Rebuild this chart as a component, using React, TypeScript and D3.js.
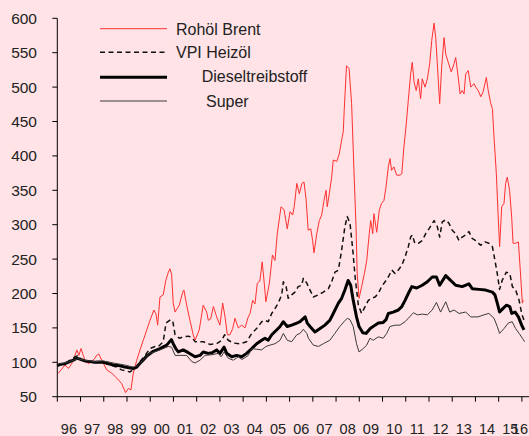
import React from "react";
import * as d3 from "d3";

// ---- data (index 1996 = 100), [decimal year, value] ----
const seriesNames = ["Rohöl Brent", "VPI Heizöl", "Dieseltreibstoff", "Super"];

const brent: [number, number][] = [
  [1996.04, 84], [1996.19, 90], [1996.33, 96], [1996.48, 91], [1996.62, 98], [1996.76, 110], [1996.84, 118], [1996.93, 110],
  [1997.02, 120], [1997.12, 110], [1997.19, 103], [1997.33, 98], [1997.48, 101], [1997.62, 106], [1997.69, 110], [1997.79, 112],
  [1997.91, 103], [1998.02, 96], [1998.13, 89], [1998.35, 84], [1998.56, 77], [1998.77, 69], [1998.94, 56], [1999.06, 62],
  [1999.17, 60], [1999.27, 84], [1999.42, 103], [1999.56, 118], [1999.7, 132], [1999.85, 147], [1999.99, 161], [2000.16, 176],
  [2000.25, 170], [2000.32, 154], [2000.42, 195], [2000.56, 198], [2000.67, 219], [2000.78, 231], [2000.85, 236], [2000.92, 228],
  [2000.99, 186], [2001.07, 173], [2001.25, 183], [2001.4, 202], [2001.45, 205], [2001.57, 183], [2001.71, 161], [2001.85, 140],
  [2001.93, 132], [2002.11, 147], [2002.28, 183], [2002.43, 173], [2002.5, 161], [2002.6, 163], [2002.72, 181], [2002.86, 166],
  [2003.0, 154], [2003.12, 186], [2003.22, 166], [2003.32, 140], [2003.43, 140], [2003.55, 149], [2003.65, 164], [2003.79, 150],
  [2003.94, 154], [2004.08, 150], [2004.22, 166], [2004.3, 171], [2004.41, 190], [2004.51, 185], [2004.61, 215], [2004.72, 218],
  [2004.82, 246], [2004.9, 218], [2004.98, 188], [2005.13, 215], [2005.26, 256], [2005.37, 248], [2005.47, 287], [2005.63, 326],
  [2005.76, 322], [2005.9, 294], [2006.02, 319], [2006.13, 314], [2006.2, 326], [2006.31, 360], [2006.42, 345], [2006.53, 360],
  [2006.62, 362], [2006.71, 337], [2006.8, 292], [2006.91, 294], [2006.99, 277], [2007.05, 259], [2007.17, 287], [2007.28, 306],
  [2007.38, 314], [2007.48, 335], [2007.57, 350], [2007.62, 326], [2007.71, 345], [2007.81, 369], [2007.88, 394], [2008.03, 392],
  [2008.14, 403], [2008.24, 423], [2008.31, 435], [2008.35, 466], [2008.45, 531], [2008.56, 527], [2008.67, 476], [2008.77, 379],
  [2008.86, 297], [2008.91, 229], [2008.99, 193], [2009.1, 210], [2009.22, 229], [2009.32, 248], [2009.43, 287], [2009.49, 306],
  [2009.58, 287], [2009.63, 316], [2009.75, 289], [2009.86, 321], [2009.96, 331], [2010.06, 335], [2010.15, 355], [2010.25, 384],
  [2010.32, 396], [2010.39, 379], [2010.49, 384], [2010.61, 372], [2010.75, 372], [2010.83, 374], [2010.92, 413], [2011.01, 442],
  [2011.11, 481], [2011.21, 519], [2011.28, 536], [2011.36, 507], [2011.45, 495], [2011.54, 512], [2011.64, 483], [2011.71, 512],
  [2011.83, 500], [2011.93, 512], [2012.03, 534], [2012.12, 568], [2012.22, 593], [2012.29, 572], [2012.36, 534], [2012.46, 476],
  [2012.55, 531], [2012.65, 572], [2012.72, 548], [2012.83, 536], [2012.96, 522], [2013.08, 534], [2013.15, 543], [2013.26, 514],
  [2013.34, 490], [2013.43, 495], [2013.51, 490], [2013.58, 519], [2013.69, 524], [2013.8, 500], [2013.94, 505], [2014.01, 500],
  [2014.12, 495], [2014.23, 486], [2014.33, 493], [2014.47, 514], [2014.55, 495], [2014.66, 476], [2014.73, 469], [2014.8, 427],
  [2014.9, 374], [2014.98, 311], [2015.04, 268], [2015.13, 326], [2015.23, 331], [2015.3, 360], [2015.37, 369], [2015.47, 350],
  [2015.56, 311], [2015.62, 273], [2015.73, 273], [2015.85, 275], [2015.92, 239], [2016.02, 186], [2016.06, 190],
];

const heizoel: [number, number][] = [
  [1996.04, 96], [1996.33, 98], [1996.76, 108], [1996.9, 110], [1997.05, 103], [1997.48, 101], [1997.91, 101], [1998.48, 94],
  [1998.77, 89], [1999.13, 86], [1999.34, 91], [1999.56, 101], [1999.78, 110], [1999.99, 120], [2000.21, 123], [2000.35, 123],
  [2000.56, 130], [2000.68, 157], [2000.88, 162], [2000.97, 160], [2001.07, 140], [2001.25, 135], [2001.42, 137], [2001.64, 138],
  [2001.79, 136], [2001.93, 130], [2002.28, 130], [2002.57, 126], [2002.86, 127], [2003.08, 132], [2003.2, 140], [2003.36, 132],
  [2003.58, 128], [2003.86, 127], [2004.15, 130], [2004.37, 142], [2004.58, 149], [2004.8, 159], [2004.94, 161], [2005.08, 159],
  [2005.23, 171], [2005.37, 178], [2005.51, 186], [2005.66, 198], [2005.73, 217], [2005.85, 210], [2005.94, 193], [2006.09, 198],
  [2006.23, 202], [2006.37, 210], [2006.52, 212], [2006.59, 222], [2006.74, 215], [2006.88, 205], [2007.02, 195], [2007.24, 198],
  [2007.45, 202], [2007.67, 207], [2007.81, 217], [2007.95, 231], [2008.1, 234], [2008.24, 263], [2008.38, 297], [2008.48, 312],
  [2008.6, 302], [2008.72, 263], [2008.82, 224], [2008.96, 183], [2009.1, 171], [2009.25, 181], [2009.39, 190], [2009.53, 193],
  [2009.68, 195], [2009.82, 200], [2009.96, 210], [2010.11, 217], [2010.25, 224], [2010.4, 234], [2010.54, 229], [2010.68, 234],
  [2010.83, 241], [2010.97, 253], [2011.11, 268], [2011.21, 282], [2011.28, 285], [2011.39, 273], [2011.54, 273], [2011.71, 277],
  [2011.86, 287], [2012.0, 294], [2012.22, 306], [2012.36, 297], [2012.46, 282], [2012.57, 304], [2012.72, 307], [2012.86, 302],
  [2013.0, 292], [2013.15, 287], [2013.29, 277], [2013.43, 282], [2013.58, 285], [2013.72, 290], [2013.86, 280], [2014.01, 277],
  [2014.22, 270], [2014.41, 275], [2014.58, 273], [2014.73, 268], [2014.84, 248], [2014.94, 229], [2015.04, 206], [2015.15, 219],
  [2015.33, 231], [2015.48, 229], [2015.59, 210], [2015.73, 205], [2015.88, 190], [2015.99, 171], [2016.09, 161],
];

const diesel: [number, number][] = [
  [1996.0, 95], [1996.12, 97], [1996.33, 98], [1996.69, 103], [1996.84, 106], [1997.19, 102], [1997.41, 101], [1997.62, 100],
  [1997.98, 100], [1998.41, 96], [1998.7, 95], [1998.91, 93], [1999.27, 91], [1999.42, 93], [1999.63, 101], [1999.85, 109],
  [2000.13, 116], [2000.42, 120], [2000.71, 125], [2000.91, 133], [2000.99, 127], [2001.1, 120], [2001.21, 115], [2001.42, 118],
  [2001.64, 114], [2001.93, 108], [2002.14, 110], [2002.28, 115], [2002.5, 113], [2002.66, 114], [2002.86, 118], [2003.0, 113],
  [2003.18, 122], [2003.29, 113], [2003.51, 108], [2003.72, 110], [2003.94, 108], [2004.15, 113], [2004.37, 120], [2004.58, 127],
  [2004.8, 132], [2004.94, 135], [2005.08, 132], [2005.23, 140], [2005.44, 147], [2005.59, 152], [2005.73, 159], [2005.9, 152],
  [2006.09, 154], [2006.31, 157], [2006.45, 159], [2006.67, 166], [2006.76, 157], [2006.88, 152], [2007.09, 144], [2007.31, 149],
  [2007.52, 154], [2007.73, 161], [2007.88, 171], [2008.1, 186], [2008.24, 193], [2008.38, 205], [2008.52, 219], [2008.63, 212],
  [2008.74, 190], [2008.88, 166], [2008.99, 152], [2009.15, 143], [2009.29, 142], [2009.47, 149], [2009.68, 154], [2009.82, 157],
  [2010.03, 158], [2010.15, 162], [2010.25, 171], [2010.46, 173], [2010.68, 176], [2010.83, 181], [2010.97, 190], [2011.11, 200],
  [2011.26, 210], [2011.47, 208], [2011.71, 212], [2011.93, 217], [2012.14, 224], [2012.32, 224], [2012.46, 212], [2012.72, 226],
  [2012.93, 219], [2013.15, 212], [2013.43, 210], [2013.72, 214], [2013.86, 207], [2014.15, 206], [2014.44, 205], [2014.73, 202],
  [2014.84, 198], [2014.94, 186], [2015.04, 173], [2015.18, 178], [2015.33, 183], [2015.48, 181], [2015.56, 171], [2015.71, 173],
  [2015.85, 166], [2015.99, 154], [2016.09, 147],
];

const superBenzin: [number, number][] = [
  [1996.0, 97], [1996.33, 99], [1996.69, 103], [1996.89, 105], [1997.19, 103], [1997.62, 101], [1997.98, 102], [1998.41, 99],
  [1998.91, 96], [1999.27, 93], [1999.47, 95], [1999.69, 103], [1999.99, 113], [2000.42, 118], [2000.78, 123], [2000.92, 122],
  [2001.07, 110], [2001.29, 110], [2001.57, 110], [2001.79, 101], [2001.93, 99], [2002.14, 103], [2002.36, 110], [2002.66, 111],
  [2002.93, 113], [2003.05, 108], [2003.18, 115], [2003.36, 106], [2003.58, 103], [2003.79, 108], [2003.95, 104], [2004.22, 110],
  [2004.37, 120], [2004.58, 119], [2004.8, 118], [2004.98, 123], [2005.16, 125], [2005.37, 127], [2005.59, 132], [2005.73, 142],
  [2005.9, 132], [2006.09, 130], [2006.31, 140], [2006.45, 142], [2006.59, 148], [2006.74, 142], [2006.81, 135], [2007.02, 125],
  [2007.24, 123], [2007.45, 127], [2007.73, 132], [2007.95, 142], [2008.16, 152], [2008.34, 159], [2008.48, 164], [2008.6, 162],
  [2008.74, 152], [2008.88, 127], [2008.99, 115], [2009.17, 120], [2009.32, 125], [2009.46, 135], [2009.6, 132], [2009.82, 137],
  [2010.03, 135], [2010.18, 142], [2010.32, 152], [2010.54, 154], [2010.75, 154], [2010.97, 159], [2011.11, 164], [2011.33, 172],
  [2011.5, 169], [2011.71, 170], [2011.93, 169], [2012.14, 176], [2012.32, 187], [2012.5, 173], [2012.72, 188], [2012.89, 173],
  [2013.08, 176], [2013.29, 171], [2013.58, 173], [2013.8, 166], [2014.11, 166], [2014.37, 169], [2014.58, 171], [2014.8, 164],
  [2014.94, 152], [2015.04, 142], [2015.23, 149], [2015.41, 157], [2015.58, 159], [2015.73, 149], [2015.88, 142], [2016.02, 135],
  [2016.12, 130],
];

const yTicks = [50, 100, 150, 200, 250, 300, 350, 400, 450, 500, 550, 600];
const years = d3.range(1996, 2017);
const yearLabels = ["96", "97", "98", "99", "00", "01", "02", "03", "04", "05", "06", "07", "08", "09", "10", "11", "12", "13", "14", "15", "16"];

const W = 529;
const H = 436;
const FONT = "'Liberation Sans', Arial, sans-serif";

export default function App() {
  const x = d3.scaleLinear().domain([1996, 2016]).range([57.3, 521.9]);
  const y = d3.scaleLinear().domain([50, 600]).range([396.7, 18.3]);
  const line = d3
    .line<[number, number]>()
    .x((d) => x(d[0]))
    .y((d) => y(d[1]));

  const styles = [
    { stroke: "#FF3030", width: 1, dash: undefined as string | undefined },
    { stroke: "#111", width: 1.5, dash: "5,3.5" },
    { stroke: "#000", width: 3, dash: undefined },
    { stroke: "#3a3a3a", width: 1, dash: undefined },
  ];
  const allSeries = [brent, heizoel, diesel, superBenzin];

  const legend = [
    { lineY: 28.7, textX: 176, textY: 35 },
    { lineY: 52.3, textX: 176, textY: 58.3 },
    { lineY: 77.3, textX: 201.7, textY: 82.3 },
    { lineY: 101, textX: 206, textY: 106.7 },
  ];

  const axisY = y(50);
  const axisX = x(1996);

  return (
    <svg
      width={W}
      height={H}
      style={{ position: "absolute", left: 0, top: 0, display: "block" }}
      fontFamily={FONT}
    >
      <rect x={0} y={0} width={W} height={H} fill="#FFE3E6" />

      {/* series */}
      {allSeries.map((s, i) => (
        <path
          key={i}
          d={line(s) || ""}
          fill="none"
          stroke={styles[i].stroke}
          strokeWidth={styles[i].width}
          strokeDasharray={styles[i].dash}
          strokeLinejoin="round"
        />
      ))}

      {/* y axis */}
      <line x1={axisX} x2={axisX} y1={y(600)} y2={axisY} stroke="#000" strokeWidth={1} />
      {yTicks.map((t) => (
        <g key={t}>
          <line x1={axisX - 5} x2={axisX} y1={y(t)} y2={y(t)} stroke="#000" strokeWidth={1} />
          <text x={37} y={y(t)} dy="0.36em" textAnchor="end" fontSize={15.5} fill="#222">
            {t}
          </text>
        </g>
      ))}

      {/* x axis */}
      <line x1={axisX} x2={W} y1={axisY} y2={axisY} stroke="#000" strokeWidth={1} />
      {years.map((yr) => (
        <line key={yr} x1={x(yr)} x2={x(yr)} y1={axisY} y2={axisY + 5} stroke="#000" strokeWidth={1} />
      ))}
      {yearLabels.map((lab, i) => {
        const cx = x(1996 + i + 0.5);
        const last = cx + 8 > W;
        return (
          <text
            key={lab}
            x={last ? W - 1 : cx}
            y={433.5}
            textAnchor={last ? "end" : "middle"}
            fontSize={14.5}
            fill="#222"
          >
            {lab}
          </text>
        );
      })}

      {/* legend */}
      {seriesNames.map((name, i) => (
        <g key={name}>
          <line
            x1={100}
            x2={167}
            y1={legend[i].lineY}
            y2={legend[i].lineY}
            stroke={styles[i].stroke}
            strokeWidth={styles[i].width}
            strokeDasharray={styles[i].dash}
          />
          <text x={legend[i].textX} y={legend[i].textY} fontSize={16} fill="#222">
            {name}
          </text>
        </g>
      ))}
    </svg>
  );
}
